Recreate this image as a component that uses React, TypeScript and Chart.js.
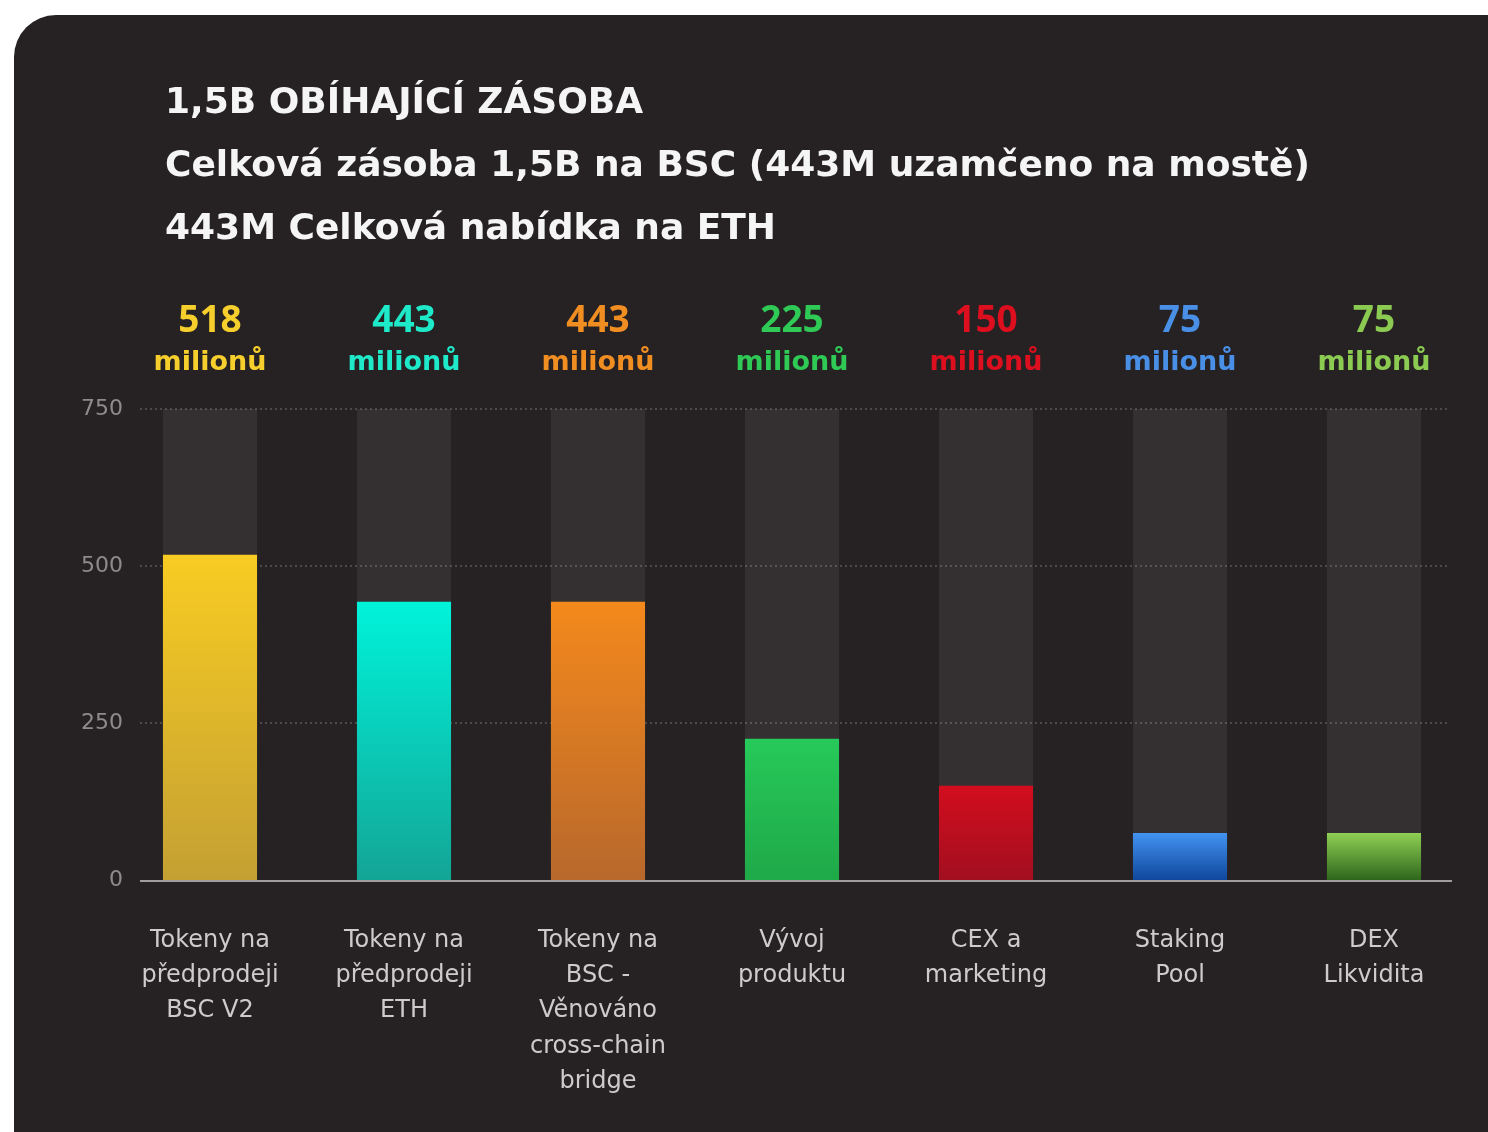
import React, { useEffect, useRef } from 'react';
import { Chart, registerables } from 'chart.js';

Chart.register(...registerables);

const titleLines = [
  '1,5B OBÍHAJÍCÍ ZÁSOBA',
  'Celková zásoba 1,5B na BSC (443M uzamčeno na mostě)',
  '443M Celková nabídka na ETH',
];
const categories = [
  ['Tokeny na', 'předprodeji', 'BSC V2'],
  ['Tokeny na', 'předprodeji', 'ETH'],
  ['Tokeny na', 'BSC -', 'Věnováno', 'cross-chain', 'bridge'],
  ['Vývoj', 'produktu'],
  ['CEX a', 'marketing'],
  ['Staking', 'Pool'],
  ['DEX', 'Likvidita'],
];
const values = [518, 443, 443, 225, 150, 75, 75];
const trackValues = [750, 750, 750, 750, 750, 750, 750];
const valueUnit = 'milionů';
const yTicks = [0, 250, 500, 750];
const labelColors = ['#f7cf2c', '#1ee9c9', '#f18e22', '#2fc955', '#dd0f1f', '#4a8fe6', '#8ccb52'];
const gradTop = ['#f8cc22', '#00f3da', '#f4891c', '#27c95a', '#d20d1e', '#4393f2', '#8fd054'];
const gradBottom = ['#c4a033', '#13a596', '#b8682c', '#1fa948', '#a20f1f', '#0f479c', '#2f661c'];

const W = 1488;
const H = 1132;
const FONT = '"DejaVu Sans", sans-serif';

export default function App() {
  const ref = useRef<HTMLCanvasElement>(null);

  useEffect(() => {
    const canvas = ref.current;
    if (!canvas) return;

    const decor = {
      id: 'decor',
      beforeDraw(chart: any) {
        const ctx = chart.ctx;
        ctx.save();
        ctx.fillStyle = '#ffffff';
        ctx.fillRect(0, 0, W, H);
        ctx.fillStyle = '#262223';
        ctx.beginPath();
        ctx.roundRect(14, 15, W + 60, H + 60, 42);
        ctx.fill();
        ctx.fillStyle = '#f5f5f5';
        ctx.font = `bold 36px ${FONT}`;
        ctx.textBaseline = 'middle';
        ctx.textAlign = 'left';
        titleLines.forEach((t, i) => ctx.fillText(t, 165, 104 + i * 63));
        ctx.restore();
      },
      beforeDatasetsDraw(chart: any) {
        const ctx = chart.ctx;
        const y = chart.scales.y;
        ctx.save();
        ctx.strokeStyle = '#4d494a';
        ctx.lineWidth = 2;
        ctx.setLineDash([2, 3]);
        yTicks.forEach((v) => {
          if (v === 0) return;
          const py = y.getPixelForValue(v);
          ctx.beginPath();
          ctx.moveTo(140, py);
          ctx.lineTo(1450, py);
          ctx.stroke();
        });
        ctx.setLineDash([]);
        ctx.fillStyle = '#8f8b8c';
        ctx.font = `22px ${FONT}`;
        ctx.textAlign = 'right';
        ctx.textBaseline = 'middle';
        yTicks.forEach((v) => ctx.fillText(String(v), 123, y.getPixelForValue(v)));
        ctx.restore();
      },
      afterDatasetsDraw(chart: any) {
        const ctx = chart.ctx;
        const { x, y } = chart.scales;
        const top = chart.chartArea.top;
        ctx.save();
        const py = y.getPixelForValue(0) + 1;
        ctx.strokeStyle = '#a19d9e';
        ctx.lineWidth = 2;
        ctx.beginPath();
        ctx.moveTo(140, py);
        ctx.lineTo(1452, py);
        ctx.stroke();
        ctx.textAlign = 'center';
        ctx.textBaseline = 'middle';
        values.forEach((v, i) => {
          const px = x.getPixelForValue(i);
          ctx.fillStyle = labelColors[i];
          ctx.font = `bold 37px "Open Sans", sans-serif`;
          ctx.fillText(String(v), px, top - 88);
          ctx.font = `bold 27px ${FONT}`;
          ctx.fillText(valueUnit, px, top - 46);
        });
        ctx.restore();
      },
    };

    const chart = new Chart(canvas, {
      type: 'bar',
      data: {
        labels: categories,
        datasets: [
          {
            data: values,
            order: 1,
            grouped: false,
            barPercentage: 0.485,
            categoryPercentage: 1,
            borderWidth: 0,
            backgroundColor: (c: any) => {
              const i = c.dataIndex;
              const chartObj = c.chart;
              if (i === undefined || !chartObj.chartArea) return gradTop[i ?? 0];
              const ys = chartObj.scales.y;
              const t = ys.getPixelForValue(values[i]);
              const b = ys.getPixelForValue(0);
              const g = chartObj.ctx.createLinearGradient(0, t, 0, b);
              g.addColorStop(0, gradTop[i]);
              g.addColorStop(1, gradBottom[i]);
              return g;
            },
          } as any,
          {
            data: trackValues,
            order: 2,
            grouped: false,
            barPercentage: 0.485,
            categoryPercentage: 1,
            borderWidth: 0,
            backgroundColor: 'rgba(255,255,255,0.065)',
          } as any,
        ],
      },
      options: {
        responsive: false,
        animation: false,
        devicePixelRatio: 1,
        layout: { padding: { left: 113, right: 17, top: 409, bottom: 0 } },
        plugins: { legend: { display: false }, tooltip: { enabled: false }, title: { display: false } },
        scales: {
          x: {
            grid: { display: false },
            border: { display: false },
            ticks: {
              color: '#cfcbcc',
              font: { family: 'DejaVu Sans', size: 24, lineHeight: 1.47 },
              padding: 35,
              maxRotation: 0,
              autoSkip: false,
            },
            afterFit: (s: any) => {
              s.height = 252;
            },
          },
          y: { min: 0, max: 750, display: false },
        },
      } as any,
      plugins: [decor],
    });

    return () => chart.destroy();
  }, []);

  return (
    <div style={{ position: 'absolute', left: 0, top: 0, width: W, height: H, overflow: 'hidden' }}>
      <canvas ref={ref} width={W} height={H} style={{ display: 'block', width: W, height: H }} />
    </div>
  );
}
